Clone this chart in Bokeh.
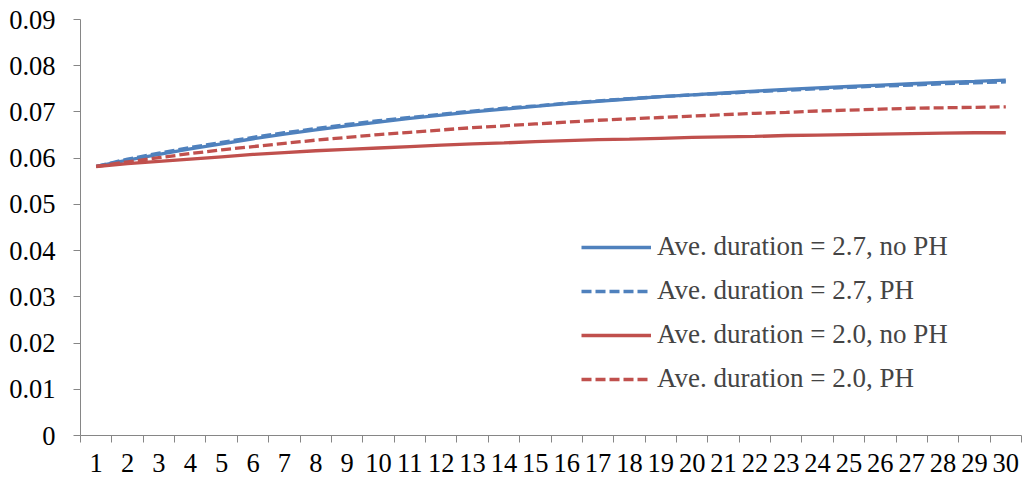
from bokeh.plotting import figure
from bokeh.models import Range1d, FixedTicker, Legend, LegendItem
from bokeh.embed import file_html
from bokeh.resources import INLINE

categories = list(range(1, 31))

blue_no_ph = [0.0582, 0.0596, 0.0608, 0.0620, 0.0631, 0.0642, 0.0652, 0.0661, 0.0670, 0.0678,
              0.0686, 0.0693, 0.0700, 0.0706, 0.0712, 0.0718, 0.0723, 0.0728, 0.0733, 0.0737,
              0.0741, 0.0745, 0.0749, 0.0752, 0.0755, 0.0758, 0.0761, 0.0764, 0.0766, 0.0769]
blue_ph = [0.0582, 0.0598, 0.0611, 0.0623, 0.0634, 0.0645, 0.0655, 0.0664, 0.0673, 0.0681,
           0.0688, 0.0695, 0.0702, 0.0708, 0.0713, 0.0719, 0.0724, 0.0729, 0.0733, 0.0737,
           0.0740, 0.0744, 0.0747, 0.0750, 0.0753, 0.0756, 0.0758, 0.0761, 0.0763, 0.0765]
red_no_ph = [0.0582, 0.0588, 0.0593, 0.0598, 0.0603, 0.0608, 0.0612, 0.0616, 0.0619, 0.0622,
             0.0625, 0.0628, 0.0631, 0.0633, 0.0636, 0.0638, 0.0640, 0.0641, 0.0643, 0.0645,
             0.0646, 0.0647, 0.0649, 0.0650, 0.0651, 0.0652, 0.0653, 0.0654, 0.0655, 0.0655]
red_ph = [0.0582, 0.0592, 0.0601, 0.0610, 0.0618, 0.0625, 0.0632, 0.0639, 0.0645, 0.0651,
          0.0656, 0.0661, 0.0666, 0.0670, 0.0674, 0.0678, 0.0682, 0.0685, 0.0688, 0.0691,
          0.0694, 0.0697, 0.0699, 0.0702, 0.0704, 0.0706, 0.0708, 0.0709, 0.0710, 0.0711]

series_labels = ["Ave. duration = 2.7, no PH", "Ave. duration = 2.7, PH",
                 "Ave. duration = 2.0, no PH", "Ave. duration = 2.0, PH"]

y_ticks = [0, 0.01, 0.02, 0.03, 0.04, 0.05, 0.06, 0.07, 0.08, 0.09]
y_tick_labels = ["0", "0.01", "0.02", "0.03", "0.04", "0.05", "0.06", "0.07", "0.08", "0.09"]

BLUE = "#4F81BD"
RED = "#C0504D"
AXIS = "#868686"
FONT = "Liberation Serif"

p = figure(width=1024, height=483, output_backend="svg", toolbar_location=None,
           x_range=Range1d(categories[0] - 0.5, categories[-1] + 0.5),
           y_range=Range1d(y_ticks[0], y_ticks[-1]),
           min_border_left=80, min_border_top=19, min_border_right=3, min_border_bottom=48)
p.outline_line_color = None
p.xgrid.visible = False
p.ygrid.visible = False
p.background_fill_color = "white"
p.border_fill_color = "white"

r1 = p.line(categories, blue_no_ph, line_color=BLUE, line_width=3.3)
r2 = p.line(categories, blue_ph, line_color=BLUE, line_width=3.3, line_dash="10 4")
r3 = p.line(categories, red_no_ph, line_color=RED, line_width=3.3)
r4 = p.line(categories, red_ph, line_color=RED, line_width=3.3, line_dash="10 4")

# x axis: labels at category centres, ticks at category boundaries
xa = p.xaxis[0]
xa.ticker = FixedTicker(ticks=categories,
                        minor_ticks=[c - 0.5 for c in categories] + [categories[-1] + 0.5])
xa.major_label_overrides = {c: str(c) for c in categories}
xa.major_tick_out = 0
xa.major_tick_in = 0
xa.minor_tick_out = 7
xa.minor_tick_in = 0
xa.minor_tick_line_color = AXIS
xa.axis_line_color = AXIS
xa.major_label_text_font = FONT
xa.major_label_text_font_size = "26.5px"
xa.major_label_text_color = "black"
xa.major_label_standoff = 11

ya = p.yaxis[0]
ya.ticker = FixedTicker(ticks=y_ticks, minor_ticks=[])
ya.major_label_overrides = {t: l for t, l in zip(y_ticks, y_tick_labels)}
ya.major_tick_out = 7
ya.major_tick_in = 0
ya.minor_tick_out = 0
ya.minor_tick_in = 0
ya.major_tick_line_color = AXIS
ya.axis_line_color = AXIS
ya.major_label_text_font = FONT
ya.major_label_text_font_size = "26.5px"
ya.major_label_text_color = "black"
ya.major_label_standoff = 18

legend = Legend(items=[LegendItem(label=lab, renderers=[r])
                       for lab, r in zip(series_labels, [r1, r2, r3, r4])],
                location=(501, 41), padding=0, margin=0, spacing=13,
                glyph_width=70, glyph_height=30, label_height=30, label_standoff=6,
                label_text_font=FONT, label_text_font_size="27px",
                border_line_alpha=0, background_fill_alpha=0)
p.add_layout(legend, "center")

open("out.html", "w").write(file_html(p, INLINE))
